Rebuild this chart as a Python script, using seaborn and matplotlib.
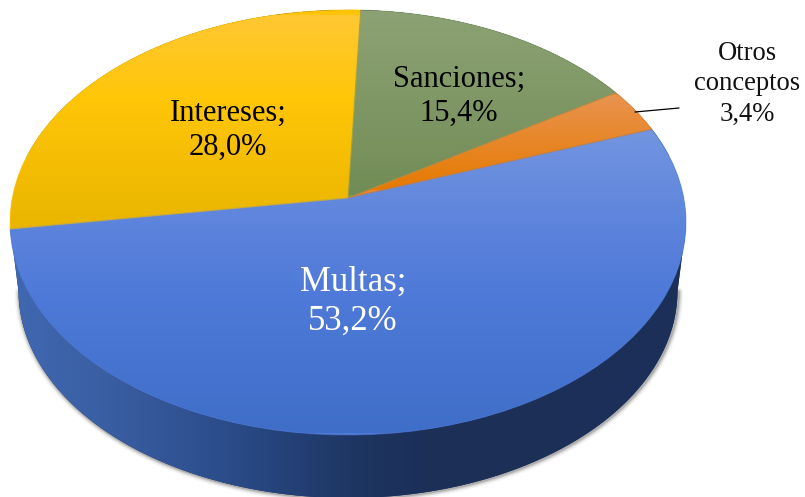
import matplotlib
matplotlib.use('Agg')
import matplotlib.pyplot as plt
import matplotlib.colors as mcl
from matplotlib.path import Path
from matplotlib.patches import PathPatch
from matplotlib.transforms import Transform
import seaborn as sns
import numpy as np

categories = ['Multas', 'Intereses', 'Sanciones', 'Otros conceptos']
values = [53.2, 28.0, 15.4, 3.4]
base_colors = ['#4F7AD6', '#FFC408', '#7D9562', '#E8862A']

# colores del degradado de arriba a abajo, por porcion
top_stops = [
    [(130, '#7295DF'), (230, '#5C83DC'), (300, '#4E79D8'), (433, '#3F6EC8')],
    [(15, '#FFC832'), (100, '#FFC608'), (230, '#E9B500')],
    [(11, '#8DA274'), (195, '#728C56')],
    [(95, '#E99350'), (190, '#E67A00')],
]
wall_stops = [(10, '#4068B2'), (100, '#3A5FA3'), (200, '#2F5090'), (260, '#274680'),
              (350, '#1E3663'), (430, '#1B2F57'), (690, '#1C3059')]

W, H = 805, 497
APEX_X, APEX_Y = 348, 198
PERSP_K, RX, RY = 0.115, 335.7, 209.7


class Perspective(Transform):
    input_dims = 2
    output_dims = 2
    has_inverse = False

    def __init__(self, scale=1.0, dx=0.0, dy=0.0):
        super().__init__()
        self.scale, self.dx, self.dy = scale, dx, dy

    def transform_non_affine(self, xy):
        xy = np.asarray(xy, dtype=float)
        den = 1 + PERSP_K * xy[:, 1]
        px = APEX_X + self.dx + self.scale * RX * xy[:, 0] / den
        py = APEX_Y + self.dy - self.scale * RY * xy[:, 1] / den
        return np.column_stack([px, py])


def gradient(ax, stops, vertical, clip):
    a, b = stops[0][0], stops[-1][0]
    pos = [(p - a) / (b - a) for p, _ in stops]
    cmap = mcl.LinearSegmentedColormap.from_list('g', list(zip(pos, [c for _, c in stops])))
    arr = np.linspace(0, 1, 512)
    arr = arr[:, None] if vertical else arr[None, :]
    if vertical:
        extent = (0, W, b, a)
    else:
        extent = (a, b, H, 0)
    im = ax.imshow(arr, cmap=cmap, extent=extent, aspect='auto', origin='upper',
                   interpolation='bilinear', zorder=2)
    im.set_clip_path(clip)


sns.set_theme(style='white')
plt.rcParams['font.family'] = ['Liberation Serif']

fig = plt.figure(figsize=(W / 100, H / 100), dpi=100)
ax = fig.add_axes([0, 0, 1, 1])

palette = sns.color_palette(base_colors)
persp = Perspective()
wedges, _ = ax.pie(values, colors=palette, startangle=19.9,
                   counterclock=False, radius=1, frame=True,
                   wedgeprops={'linewidth': 0, 'zorder': 2})
for w in wedges:
    w.set_transform(persp + ax.transData)

# pared lateral: borde inferior de la elipse baja, cerrado contra la elipse superior
low = Perspective(scale=0.975, dy=69)
th = np.radians(np.linspace(168, 372, 240))
low_pts = low.transform_non_affine(np.column_stack([np.cos(th), np.sin(th)]))
top_th = np.radians(np.linspace(12, 168, 120))
top_pts = persp.transform_non_affine(np.column_stack([np.cos(top_th), np.sin(top_th)]))
left_idx = low_pts[:, 0].argmin()
right_idx = low_pts[:, 0].argmax()
rim = low_pts[left_idx:right_idx + 1]
wall_path = Path(np.vstack([[[10, 225]], rim, [[686, 225]], top_pts]))
wall = PathPatch(wall_path, facecolor='#1C3059', edgecolor='none', zorder=1.5)
ax.add_patch(wall)

# sombra difusa alrededor de la pared
for lw, alpha in [(7, 0.05), (5, 0.08), (3.5, 0.12), (2, 0.2)]:
    ax.plot(rim[:, 0] + 1, rim[:, 1] + 0.5, color='#303030', lw=lw, alpha=alpha,
            solid_capstyle='round', zorder=1)

gradient(ax, wall_stops, False, wall)
ax.images[-1].set_zorder(1.6)

for w, stops in zip(wedges, top_stops):
    gradient(ax, stops, True, w)

# suaviza los bordes del recorte
for w, c in zip(wedges, palette):
    edge = PathPatch(w.get_path(), facecolor='none', edgecolor=c, lw=0.8, alpha=0.5,
                     transform=persp + ax.transData, zorder=3)
    ax.add_patch(edge)


def pct(v):
    return f'{v:.1f}'.replace('.', ',') + '%'


ax.text(353, 302, f'{categories[0]};\n{pct(values[0])}', color='white', fontsize=25,
        ha='center', va='center', linespacing=1.24, zorder=4)
ax.text(228, 130, f'{categories[1]};\n{pct(values[1])}', color='black', fontsize=22,
        ha='center', va='center', linespacing=1.24, zorder=4)
ax.text(459, 96, f'{categories[2]};\n{pct(values[2])}', color='black', fontsize=22,
        ha='center', va='center', linespacing=1.24, zorder=4)
ax.text(747, 84, f'Otros\nconceptos\n{pct(values[3])}', color='#111111', fontsize=19.2,
        ha='center', va='center', linespacing=1.28, zorder=4)
ax.plot([635, 679], [112, 108], color='black', lw=0.9, zorder=4)

ax.set_xlim(0, W)
ax.set_ylim(H, 0)
ax.set_aspect('auto')
ax.axis('off')
fig.savefig('out.png', dpi=100, facecolor='white')
